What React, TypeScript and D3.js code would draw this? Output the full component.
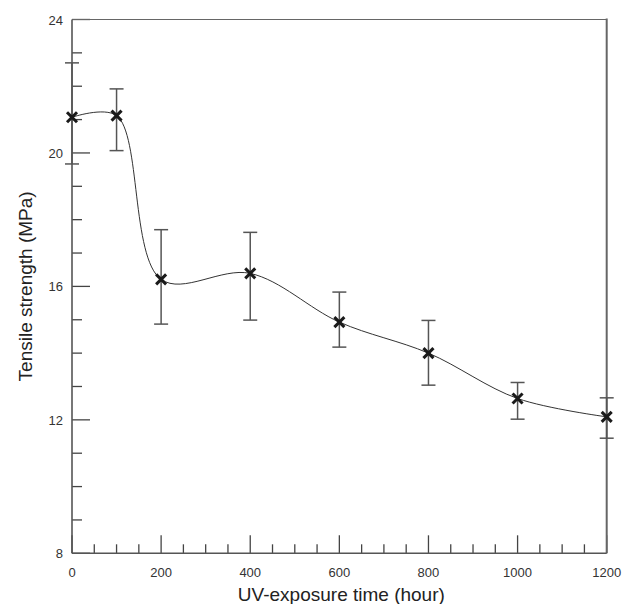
import React from "react";
import * as d3 from "d3";

const hours = [0, 100, 200, 400, 600, 800, 1000, 1200];
const strength = [21.07, 21.12, 16.21, 16.39, 14.93, 14.0, 12.64, 12.09];
const errUpper = [22.7, 21.92, 17.7, 17.62, 15.83, 14.98, 13.12, 12.66];
const errLower = [19.67, 20.07, 14.87, 14.99, 14.18, 13.04, 12.02, 11.45];
const xMajorTicks = [0, 200, 400, 600, 800, 1000, 1200];
const yMajorTicks = [8, 12, 16, 20, 24];

const W = 623;
const H = 604;
const left = 72;
const right = 606.7;
const top = 19.5;
const bottom = 553.3;

export default function App() {
  const x = d3.scaleLinear().domain([0, 1200]).range([left, right]);
  const y = d3.scaleLinear().domain([8, 24]).range([bottom, top]);
  const pts: [number, number][] = hours.map((h, i) => [x(h), y(strength[i])]);
  const line = d3.line().curve(d3.curveCatmullRom.alpha(0.5));
  const path = line(pts) || "";
  const xMinor = d3.range(50, 1200, 50).filter((v) => v % 200 !== 0);
  const yMinor = d3.range(9, 24, 1).filter((v) => v % 4 !== 0);
  const font = "Liberation Sans, Arial, Helvetica, sans-serif";
  const tickCol = "#444";
  return (
    <svg width={W} height={H} style={{ position: "absolute", left: 0, top: 0 }}>
      <rect x={0} y={0} width={W} height={H} fill="#fff" />
      {xMinor.map((v) => (
        <line key={"xm" + v} x1={x(v)} x2={x(v)} y1={bottom} y2={bottom - 9} stroke={tickCol} strokeWidth={1.3} />
      ))}
      {xMajorTicks.map((v) => (
        <line key={"xM" + v} x1={x(v)} x2={x(v)} y1={bottom} y2={bottom - 18} stroke={tickCol} strokeWidth={1.3} />
      ))}
      {yMinor.map((v) => (
        <line key={"ym" + v} x1={left} x2={left + 10} y1={y(v)} y2={y(v)} stroke={tickCol} strokeWidth={1.3} />
      ))}
      {yMajorTicks.map((v) => (
        <line key={"yM" + v} x1={left} x2={left + 18} y1={y(v)} y2={y(v)} stroke={tickCol} strokeWidth={1.3} />
      ))}
      <line x1={left} x2={right} y1={top} y2={top} stroke="#666" strokeWidth={1.2} />
      <line x1={right} x2={right} y1={top - 1} y2={bottom} stroke="#666" strokeWidth={2} />
      <line x1={left} x2={left} y1={top} y2={bottom} stroke="#555" strokeWidth={1.6} />
      <line x1={left} x2={right} y1={bottom} y2={bottom} stroke="#555" strokeWidth={1.6} />
      <path d={path} fill="none" stroke="#333" strokeWidth={1} />
      {hours.map((h, i) => (
        <g key={"e" + h} stroke="#555" strokeWidth={1.5}>
          <line x1={x(h)} x2={x(h)} y1={y(errUpper[i])} y2={y(errLower[i])} />
          <line x1={x(h) - 7} x2={x(h) + 7} y1={y(errUpper[i])} y2={y(errUpper[i])} />
          <line x1={x(h) - 7} x2={x(h) + 7} y1={y(errLower[i])} y2={y(errLower[i])} />
        </g>
      ))}
      {pts.map(([px, py], i) => (
        <g key={"m" + i} stroke="#1a1a1a" strokeWidth={3}>
          <line x1={px - 5} x2={px + 5} y1={py - 5} y2={py + 5} />
          <line x1={px - 5} x2={px + 5} y1={py + 5} y2={py - 5} />
        </g>
      ))}
      {xMajorTicks.map((v) => (
        <text key={"xl" + v} x={x(v)} y={bottom + 24} textAnchor="middle" fontFamily={font} fontSize={13} fill="#333">
          {v}
        </text>
      ))}
      {yMajorTicks.map((v) => (
        <text key={"yl" + v} x={left - 9} y={y(v) + 5} textAnchor="end" fontFamily={font} fontSize={13} fill="#333">
          {v}
        </text>
      ))}
      <text x={(left + right) / 2 + 2} y={601} textAnchor="middle" fontFamily={font} fontSize={19} fill="#222">
        UV-exposure time (hour)
      </text>
      <text
        transform={`translate(32, ${(top + bottom) / 2}) rotate(-90)`}
        textAnchor="middle"
        fontFamily={font}
        fontSize={19}
        fill="#222"
      >
        Tensile strength (MPa)
      </text>
    </svg>
  );
}
